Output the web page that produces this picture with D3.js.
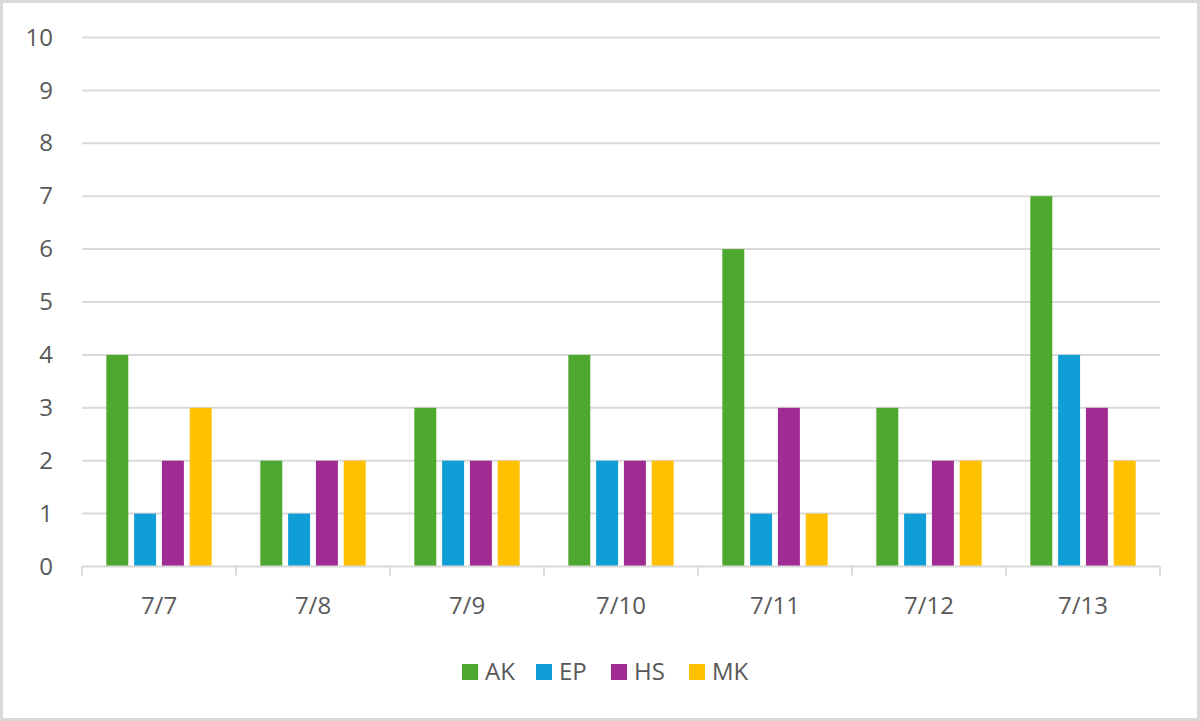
<!DOCTYPE html>
<html>
<head>
<meta charset="utf-8">
<script src="https://cdn.jsdelivr.net/npm/d3@7"></script>
<style>
  body { margin: 0; background: #fff; }
  svg text { font-family: "Open Sans", "Liberation Sans", sans-serif; fill: #595959; }
</style>
</head>
<body>
<svg id="chart"></svg>
<script>
var dates = ["7/7", "7/8", "7/9", "7/10", "7/11", "7/12", "7/13"];
var seriesNames = ["AK", "EP", "HS", "MK"];
var akValues = [4, 2, 3, 4, 6, 3, 7];
var epValues = [1, 1, 2, 2, 1, 1, 4];
var hsValues = [2, 2, 2, 2, 3, 2, 3];
var mkValues = [3, 2, 2, 2, 1, 2, 2];
var yTicks = [0, 1, 2, 3, 4, 5, 6, 7, 8, 9, 10];
var colors = ["#4EA72E", "#0F9ED5", "#A02B93", "#FFC000"];

var allValues = [akValues, epValues, hsValues, mkValues];

function render()
{
	var width = 1200, height = 721;
	var margin = {top: 37.5, right: 40, bottom: 154.5, left: 82};
	var plotW = width - margin.left - margin.right,
	    plotH = height - margin.top - margin.bottom;

	var svg = d3.select('#chart')
		.attr('width', width)
		.attr('height', height);

	// outer chart border
	svg.append('rect')
		.attr('x', 1.5).attr('y', 1.5)
		.attr('width', width - 3).attr('height', height - 3)
		.attr('fill', '#fff')
		.attr('stroke', '#D9D9D9')
		.attr('stroke-width', 3);

	var g = svg.append('g')
		.attr('transform', 'translate(' + margin.left + ',' + margin.top + ')');

	var x0 = d3.scaleBand().domain(dates).range([0, plotW]).padding(0);
	var x1 = d3.scaleBand().domain(seriesNames).range([0, x0.bandwidth()])
		.paddingInner(0.21).paddingOuter(0.875);
	var y = d3.scaleLinear().domain([0, 10]).range([plotH, 0]);

	// gridlines
	g.append('g')
		.attr('class', 'grid')
		.selectAll('line')
		.data(yTicks.filter(function(d){ return d > 0; }))
		.enter().append('line')
		.attr('x1', 0).attr('x2', plotW)
		.attr('y1', function(d){ return y(d); })
		.attr('y2', function(d){ return y(d); })
		.attr('stroke', '#D9D9D9')
		.attr('stroke-width', 2);

	// y axis labels
	var yAxis = d3.axisLeft(y).tickValues(yTicks).tickSize(0).tickPadding(29);
	var yg = g.append('g').call(yAxis);
	yg.select('.domain').remove();
	yg.selectAll('text').style('font-size', '24px');

	// bars
	var rows = dates.map(function(d, i){
		return {date: d, vals: seriesNames.map(function(s, j){ return {name: s, value: allValues[j][i], idx: j}; })};
	});

	var groups = g.selectAll('g.day')
		.data(rows).enter()
		.append('g')
		.attr('class', 'day')
		.attr('transform', function(d){ return 'translate(' + x0(d.date) + ',0)'; });

	groups.selectAll('rect')
		.data(function(d){ return d.vals; })
		.enter().append('rect')
		.attr('x', function(d){ return x1(d.name); })
		.attr('width', x1.bandwidth())
		.attr('y', function(d){ return y(d.value); })
		.attr('height', function(d){ return y(0) - y(d.value); })
		.attr('fill', function(d){ return colors[d.idx]; });

	// x axis with category boundary ticks
	var xAxis = d3.axisBottom(x0).tickSize(0).tickPadding(30);
	var xg = g.append('g')
		.attr('transform', 'translate(0,' + plotH + ')')
		.call(xAxis);
	xg.select('.domain').remove();
	xg.selectAll('text').style('font-size', '24px');

	xg.append('line')
		.attr('x1', 0).attr('x2', plotW)
		.attr('y1', 0).attr('y2', 0)
		.attr('stroke', '#D9D9D9').attr('stroke-width', 2);

	var bounds = dates.map(function(d){ return x0(d); }).concat([plotW]);
	xg.selectAll('line.bound')
		.data(bounds).enter()
		.append('line')
		.attr('class', 'bound')
		.attr('x1', function(d){ return d; })
		.attr('x2', function(d){ return d; })
		.attr('y1', 0).attr('y2', 9)
		.attr('stroke', '#D9D9D9').attr('stroke-width', 2);

	// legend
	var legend = svg.append('g').attr('transform', 'translate(0,672)');
	var itemX = [462, 536, 611, 689];
	var items = legend.selectAll('g.item')
		.data(seriesNames).enter()
		.append('g')
		.attr('class', 'item')
		.attr('transform', function(d, i){ return 'translate(' + itemX[i] + ',0)'; });
	items.append('rect')
		.attr('x', 0).attr('y', -8)
		.attr('width', 16).attr('height', 16)
		.attr('fill', function(d, i){ return colors[i]; });
	items.append('text')
		.attr('x', 23).attr('y', 0)
		.attr('dy', '0.35em')
		.style('font-size', '24px')
		.text(function(d){ return d; });
}

render();
</script>
</body>
</html>
